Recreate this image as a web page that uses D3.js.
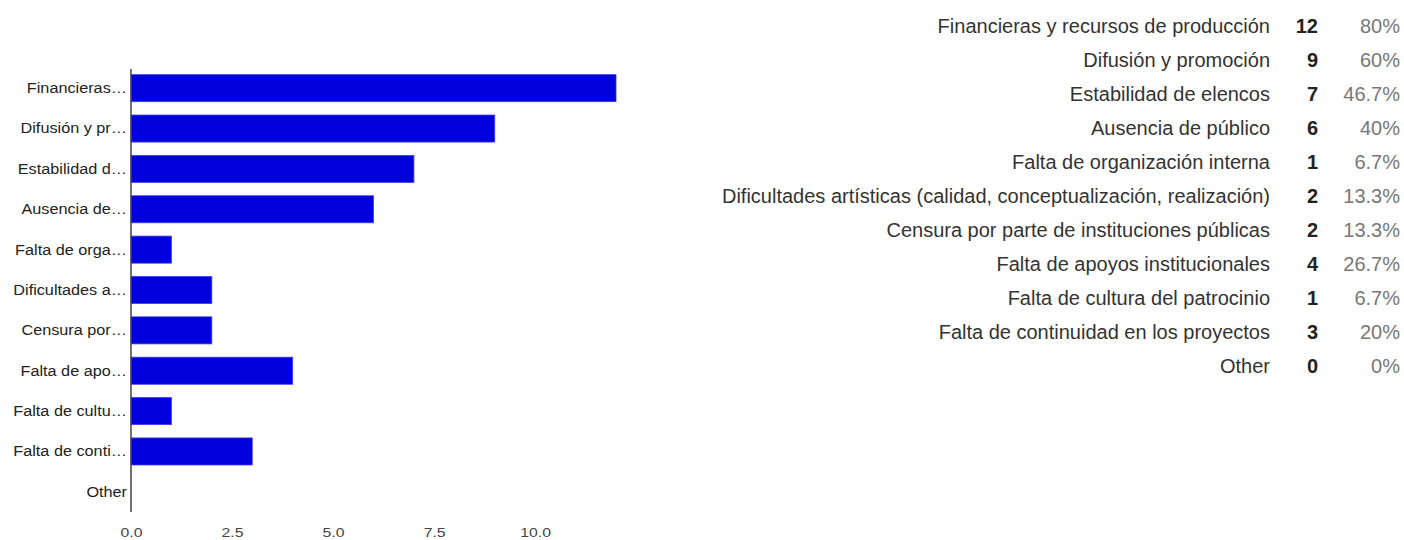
<!DOCTYPE html>
<html lang="es">
	<head>
		<meta charset="utf-8">
		<title>Dificultades</title>
		<style type="text/css">
			body { margin: 0; background: #fff; }
			svg text { font-family: Arial, "Liberation Sans", sans-serif; }
		</style>
	</head>
	<body>
		<script src="https://cdn.jsdelivr.net/npm/d3@7"></script>
		<script type="text/javascript">
			//Width and height
			var w = 1404;
			var h = 540;

			//Data
			var categories = [
				"Financieras y recursos de producción",
				"Difusión y promoción",
				"Estabilidad de elencos",
				"Ausencia de público",
				"Falta de organización interna",
				"Dificultades artísticas (calidad, conceptualización, realización)",
				"Censura por parte de instituciones públicas",
				"Falta de apoyos institucionales",
				"Falta de cultura del patrocinio",
				"Falta de continuidad en los proyectos",
				"Other"
			];
			var shortLabels = [
				"Financieras…", "Difusión y pr…", "Estabilidad d…", "Ausencia de…",
				"Falta de orga…", "Dificultades a…", "Censura por…", "Falta de apo…",
				"Falta de cultu…", "Falta de conti…", "Other"
			];
			var counts = [12, 9, 7, 6, 1, 2, 2, 4, 1, 3, 0];
			var percents = ["80%", "60%", "46.7%", "40%", "6.7%", "13.3%", "13.3%", "26.7%", "6.7%", "20%", "0%"];
			var xTicks = [0, 2.5, 5, 7.5, 10];

			var svg = d3.select("body")
						.append("svg")
						.attr("width", w)
						.attr("height", h);

			//Scales
			var xScale = d3.scaleLinear()
							.domain([0, 12])
							.range([131, 616]);

			var yScale = d3.scaleBand()
							.domain(d3.range(categories.length))
							.range([68, 512])
							.paddingInner(0.33)
							.paddingOuter(0.165);

			//Bars
			svg.selectAll("rect.bar")
			   .data(counts)
			   .enter()
			   .append("rect")
			   .attr("class", "bar")
			   .attr("x", xScale(0))
			   .attr("y", function(d, i) { return yScale(i); })
			   .attr("width", function(d) { return xScale(d) - xScale(0); })
			   .attr("height", yScale.bandwidth())
			   .attr("fill", "#0000dc")
			   .attr("stroke", "#3b3bf0")
			   .attr("stroke-width", function(d) { return d > 0 ? 0.8 : 0; });

			//Vertical baseline
			svg.append("line")
			   .attr("x1", xScale(0))
			   .attr("x2", xScale(0))
			   .attr("y1", 69)
			   .attr("y2", 512)
			   .attr("stroke", "#444")
			   .attr("stroke-width", 1.5);

			//Category labels (the left chart text is a bit wide, so stretch it)
			svg.selectAll("text.cat")
			   .data(shortLabels)
			   .enter()
			   .append("text")
			   .attr("class", "cat")
			   .text(function(d) { return d; })
			   .attr("transform", function(d, i) {
			   		return "translate(127," + (yScale(i) + yScale.bandwidth() / 2) + ") scale(1.16,1)";
			   })
			   .attr("dy", "0.35em")
			   .attr("text-anchor", "end")
			   .attr("font-size", "14px")
			   .attr("fill", "#222");

			//X axis
			var xAxis = d3.axisBottom(xScale)
						  .tickValues(xTicks)
						  .tickFormat(d3.format(".1f"))
						  .tickSize(0)
						  .tickPadding(0);

			var gx = svg.append("g")
						.attr("transform", "translate(0,532)")
						.call(xAxis);
			gx.select(".domain").remove();
			gx.selectAll("text")
			  .attr("font-size", "13.5px")
			  .attr("fill", "#444")
			  .attr("dy", "0.35em")
			  .attr("transform", "scale(1.17,1)")
			  .style("font-family", "Arial, 'Liberation Sans', sans-serif");

			//Summary table
			var rowY = d3.scaleLinear()
						 .domain([0, categories.length - 1])
						 .range([26, 366]);

			var rows = svg.selectAll("g.row")
						  .data(categories)
						  .enter()
						  .append("g")
						  .attr("class", "row")
						  .attr("transform", function(d, i) { return "translate(0," + rowY(i) + ")"; });

			rows.append("text")
				.text(function(d) { return d; })
				.attr("x", 1270)
				.attr("dy", "0.35em")
				.attr("text-anchor", "end")
				.attr("font-size", "20px")
				.attr("fill", "#333");

			rows.append("text")
				.text(function(d, i) { return counts[i]; })
				.attr("x", 1318)
				.attr("dy", "0.35em")
				.attr("text-anchor", "end")
				.attr("font-size", "20px")
				.attr("font-weight", "bold")
				.attr("fill", "#222");

			rows.append("text")
				.text(function(d, i) { return percents[i]; })
				.attr("x", 1400)
				.attr("dy", "0.35em")
				.attr("text-anchor", "end")
				.attr("font-size", "20px")
				.attr("fill", "#777");
		</script>
	</body>
</html>
